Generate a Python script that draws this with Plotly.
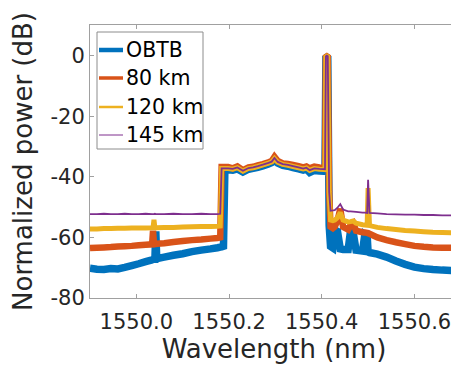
import plotly.graph_objects as go

# Wavelength grid (nm) shared by all traces
wavelength = [
    1549.900, 1549.915, 1549.930, 1549.945, 1549.960, 1549.975, 1549.990, 1550.005, 1550.020, 1550.034,
    1550.036, 1550.038, 1550.040, 1550.042, 1550.044, 1550.060, 1550.080, 1550.100, 1550.120, 1550.140,
    1550.160, 1550.175, 1550.181, 1550.184, 1550.188, 1550.191,
    1550.198, 1550.208, 1550.218, 1550.230, 1550.242, 1550.252, 1550.262, 1550.273, 1550.285, 1550.292,
    1550.298, 1550.305, 1550.316, 1550.327, 1550.338, 1550.350, 1550.360, 1550.367, 1550.374, 1550.384,
    1550.395, 1550.407,
    1550.409, 1550.411, 1550.413,
    1550.416, 1550.419, 1550.424, 1550.428, 1550.434, 1550.440, 1550.446, 1550.457, 1550.462, 1550.468,
    1550.474, 1550.488, 1550.493, 1550.498, 1550.500, 1550.503, 1550.520, 1550.540, 1550.560, 1550.580,
    1550.600, 1550.620, 1550.640, 1550.660, 1550.680, 1550.696,
]

p_obtb = [
    -70.2, -70.5, -70.6, -70.3, -70.4, -69.9, -69.3, -68.7, -68.0, -67.4,
    -67.3, -67.2, -67.2, -58.0, -67.0, -66.5, -65.9, -65.4, -64.7, -64.2,
    -63.8, -63.4, -63.2, -63.1, -62.9, -37.7,
    -37.7, -37.8, -37.4, -38.4, -37.5, -37.2, -36.9, -36.4, -35.8, -35.3,
    -34.5, -35.5, -36.2, -36.5, -37.0, -37.4, -37.8, -37.5, -38.6, -37.9,
    -38.1, -38.2,
    -0.8, -0.6, -0.8,
    -56.0, -63.0, -63.5, -57.5, -58.0, -63.8, -64.0, -64.0, -58.0, -58.5,
    -64.2, -64.5, -59.0, -59.5, -64.8, -65.0, -65.5, -66.5, -67.8, -68.9,
    -69.8, -70.3, -70.6, -70.8, -70.9, -71.0,
]

p_80km = [
    -63.5, -63.4, -63.3, -63.2, -63.0, -62.9, -62.8, -62.6, -62.4, -62.3,
    -57.8, -62.2, -62.2, -62.2, -62.1, -61.9, -61.5, -61.2, -60.9, -60.7,
    -60.4, -60.2, -60.0, -36.8, -36.8, -36.8,
    -36.8, -37.2, -36.6, -37.8, -36.9, -36.7, -36.2, -35.8, -35.2, -34.8,
    -33.4, -34.8, -35.6, -35.8, -36.1, -36.5, -36.9, -36.6, -37.2, -36.6,
    -36.9, -37.0,
    -0.5, -0.3, -0.5,
    -45.0, -56.5, -57.0, -56.5, -54.5, -50.5, -56.5, -57.4, -56.0, -55.3,
    -57.8, -58.3, -58.4, -58.5, -58.6, -58.8, -60.0, -60.9, -61.6, -62.2,
    -62.8, -63.1, -63.3, -63.4, -63.4, -63.5,
]

p_120km = [
    -57.2, -57.2, -57.1, -57.1, -57.0, -57.0, -56.9, -56.9, -56.9, -56.8,
    -56.8, -54.2, -56.8, -56.8, -56.8, -56.7, -56.7, -56.6, -56.5, -56.4,
    -56.4, -56.3, -56.2, -37.3, -37.3, -37.3,
    -37.3, -37.5, -37.0, -38.1, -37.2, -37.0, -36.6, -36.1, -35.5, -35.1,
    -34.0, -35.2, -35.9, -36.2, -36.6, -37.0, -37.4, -37.1, -37.9, -37.3,
    -37.5, -37.6,
    -0.4, -0.2, -0.4,
    -45.0, -54.3, -54.5, -54.3, -53.5, -51.8, -54.3, -54.9, -54.8, -54.6,
    -55.3, -55.8, -55.9, -56.0, -43.7, -56.1, -56.7, -57.1, -57.4, -57.7,
    -57.9, -58.1, -58.3, -58.4, -58.5, -58.5,
]

p_145km = [
    -52.3, -52.3, -52.2, -52.3, -52.3, -52.2, -52.3, -52.3, -52.2, -52.3,
    -52.3, -52.3, -52.2, -52.3, -52.3, -52.3, -52.2, -52.3, -52.3, -52.2,
    -52.3, -52.3, -52.2, -37.2, -37.2, -37.2,
    -37.2, -37.4, -36.9, -38.0, -37.1, -36.9, -36.5, -36.0, -35.4, -35.0,
    -33.8, -35.1, -35.8, -36.1, -36.5, -36.9, -37.3, -37.0, -37.8, -37.2,
    -37.4, -37.5,
    -0.2, 0.0, -0.2,
    -45.0, -51.2, -51.1, -51.0, -50.2, -49.0, -50.8, -51.4, -51.4, -51.5,
    -51.6, -51.8, -51.8, -51.9, -41.0, -51.9, -52.1, -52.3, -52.4, -52.5,
    -52.5, -52.6, -52.6, -52.7, -52.7, -52.7,
]

series_names = ["OBTB", "80 km", "120 km", "145 km"]
series_values = [p_obtb, p_80km, p_120km, p_145km]
colors = ["#0072BD", "#D95319", "#EDB120", "#7E2F8E"]
line_widths = [7.5, 6.5, 5, 1.8]
legend_widths = [4.5, 3.5, 2.5, 1]

x_ticks = [1550.0, 1550.2, 1550.4, 1550.6]
x_tick_labels = ["1550.0", "1550.2", "1550.4", "1550.6"]
y_ticks = [0, -20, -40, -60, -80]
y_tick_labels = ["0", "-20", "-40", "-60", "-80"]

FONT = "DejaVu Sans"
TXT = "#262626"
AX = "#a0a0a0"

# figure placed by the page with an 8 px body margin
OFF = 8
W, H = 451, 367
ML, MR, MT, MB = 82, 1, 17, 77
PW, PH = W - ML - MR, H - MT - MB


def px(sx):
    return (sx - OFF - ML) / PW


def py(sy):
    return 1 - (sy - OFF - MT) / PH


fig = go.Figure()
for name, vals, c, w in zip(series_names, series_values, colors, line_widths):
    fig.add_trace(go.Scatter(x=wavelength, y=vals, mode="lines", name=name,
                             line=dict(color=c, width=w, simplify=False), showlegend=False,
                             hoverinfo="skip"))

# legend drawn as a boxed key
shapes = [dict(type="rect", xref="paper", yref="paper",
               x0=px(97), x1=px(203), y0=py(149), y1=py(32),
               line=dict(color="#8c8c8c", width=1), fillcolor="white", layer="above")]
annotations = []
row_y = [50, 78, 107, 135]
for name, c, w, ry in zip(series_names, colors, legend_widths, row_y):
    shapes.append(dict(type="line", xref="paper", yref="paper",
                       x0=px(99), x1=px(123), y0=py(ry), y1=py(ry),
                       line=dict(color=c, width=w), layer="above"))
    annotations.append(dict(text=name, xref="paper", yref="paper", x=px(124), y=py(ry),
                            xanchor="left", yanchor="middle", showarrow=False,
                            font=dict(family=FONT, size=20.5, color="black")))

fig.update_layout(
    width=W, height=H,
    margin=dict(l=ML, r=MR, t=MT, b=MB),
    paper_bgcolor="white", plot_bgcolor="white",
    font=dict(family=FONT, color=TXT),
    showlegend=False,
    shapes=shapes, annotations=annotations,
)
fig.update_xaxes(
    range=[1549.9, 1550.694], tickmode="array", tickvals=x_ticks, ticktext=x_tick_labels,
    ticks="inside", ticklen=4, tickcolor=AX, showline=True, linecolor=AX, linewidth=1,
    mirror="ticks", showgrid=False, zeroline=False, automargin=False,
    ticklabelstandoff=5,
    tickfont=dict(family=FONT, size=21, color=TXT),
    title=dict(text="Wavelength (nm)", font=dict(family=FONT, size=26, color=TXT), standoff=0),
)
fig.update_yaxes(
    range=[-80, 10.1], tickmode="array", tickvals=y_ticks, ticktext=y_tick_labels,
    ticks="inside", ticklen=4, tickcolor=AX, showline=True, linecolor=AX, linewidth=1,
    mirror="ticks", showgrid=False, zeroline=False, automargin=False,
    tickfont=dict(family=FONT, size=21, color=TXT),
    title=dict(text="Normalized power (dB)", font=dict(family=FONT, size=26, color=TXT), standoff=14),
)

fig.write_html("out.html")
